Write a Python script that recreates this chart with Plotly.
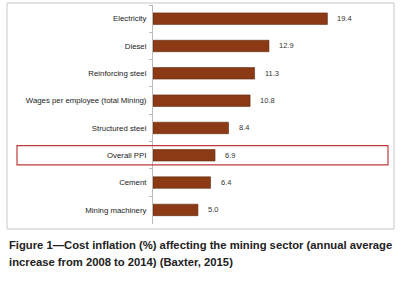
import plotly.graph_objects as go

categories = ["Electricity", "Diesel", "Reinforcing steel", "Wages per employee (total Mining)",
              "Structured steel", "Overall PPI", "Cement", "Mining machinery"]
values = [19.4, 12.9, 11.3, 10.8, 8.4, 6.9, 6.4, 5.0]
value_labels = ["19.4", "12.9", "11.3", "10.8", "8.4", "6.9", "6.4", "5.0"]
caption_lines = ["Figure 1\u2014Cost inflation (%) affecting the mining sector (annual average",
                 "increase from 2008 to 2014) (Baxter, 2015)"]
highlight = "Overall PPI"

W, H = 401, 281
px = lambda x: x / W
py = lambda y: 1 - y / H

fig = go.Figure()
fig.add_trace(go.Bar(
    x=values, y=categories, orientation="h", width=0.42,
    marker=dict(color="#8B3A15", line=dict(color="#5E2A0E", width=0.6)),
    hoverinfo="skip",
))

for c, v, t in zip(categories, values, value_labels):
    fig.add_annotation(x=v, y=c, xref="x", yref="y", text=t, showarrow=False,
                       xanchor="left", yanchor="middle", xshift=8,
                       font=dict(family="Liberation Sans, Arial", size=7.5, color="#333"))

# outer frame
fig.add_shape(type="rect", xref="paper", yref="paper",
              x0=px(7), x1=px(394), y0=py(229), y1=py(3),
              line=dict(color="#C8C8C8", width=1))
# highlight rectangle
hi = categories.index(highlight)
fig.add_shape(type="rect", xref="paper", yref="y",
              x0=px(17), x1=px(388), y0=hi - 0.35, y1=hi + 0.35,
              line=dict(color="#C0393B", width=1.2))

for i, (line, yy) in enumerate(zip(caption_lines, [245, 262])):
    fig.add_annotation(x=px(7), y=py(yy), xref="paper", yref="paper", text="<b>" + line + "</b>",
                       showarrow=False, xanchor="left", yanchor="middle",
                       font=dict(family="Liberation Sans, Arial", size=11.25, color="#222"))

fig.update_layout(
    width=W, height=H, margin=dict(l=0, r=0, t=0, b=0),
    paper_bgcolor="white", plot_bgcolor="white", showlegend=False,
    xaxis=dict(domain=[px(153), px(393)], range=[0, 26.7], showgrid=False, zeroline=False,
               showticklabels=False, ticks="", showline=False, automargin=False),
    yaxis=dict(domain=[py(223.6), py(5)], autorange="reversed", type="category",
               showgrid=False, zeroline=False, showline=True, linecolor="#BBBBBB", linewidth=1,
               ticks="outside", tickson="boundaries", ticklen=3, tickcolor="#BBBBBB",
               automargin=False, ticklabelstandoff=4,
               tickfont=dict(family="Liberation Sans, Arial", size=7.8, color="#222")),
)

fig.write_html("out.html", config={"displayModeBar": False},
               post_script="document.body.style.margin='0';")
